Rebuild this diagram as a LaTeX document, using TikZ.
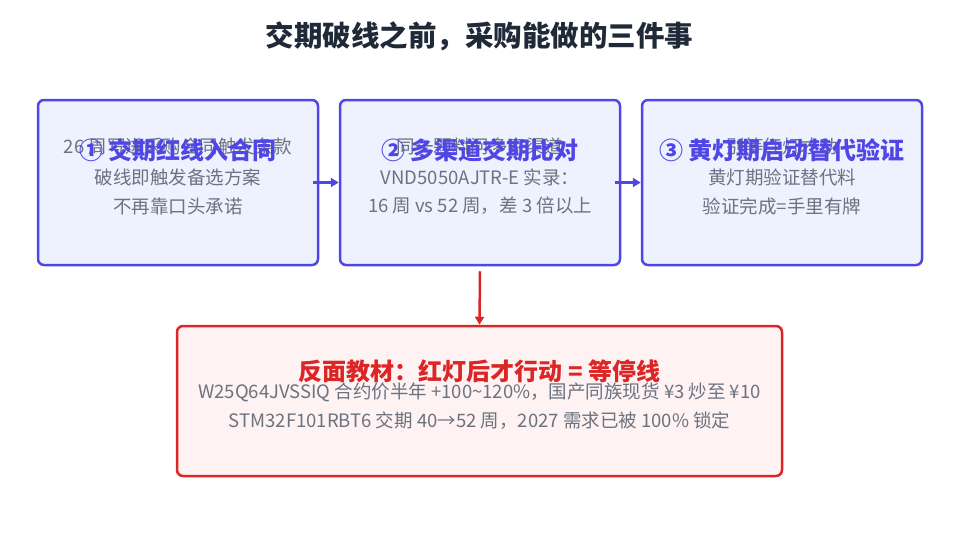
\documentclass[tikz,border=0pt]{standalone}
\usepackage{fontspec}
\setmainfont{Noto Sans CJK SC}
\usetikzlibrary{arrows.meta,positioning}
\definecolor{ink}{HTML}{1F2937}
\definecolor{purp}{HTML}{4F46E5}
\definecolor{pfill}{HTML}{EEF2FF}
\definecolor{txt}{HTML}{6B7280}
\definecolor{redc}{HTML}{DC2626}
\definecolor{rfill}{HTML}{FEF2F2}
\tikzset{
  stage/.style={draw=purp, fill=pfill, line width=2.5pt, rounded corners=6pt,
    minimum width=280pt, minimum height=165pt},
  warn/.style={draw=redc, fill=rfill, line width=2.5pt, rounded corners=6pt,
    minimum width=605pt, minimum height=150pt},
  head/.style={font=\fontsize{24}{28}\selectfont\bfseries},
  body/.style={text=txt, font=\fontsize{18.5}{22}\selectfont, align=center},
  flow/.style={line width=2.5pt, -{Triangle[length=8pt,width=9pt]}}
}
\begin{document}
\begin{tikzpicture}[x=1pt, y=-1pt]
            \useasboundingbox (0,0) rectangle (959,538);
            \node[text=ink, font=\fontsize{28.5}{32}\selectfont\bfseries] (title) at (479.5,36) {交期破线之前，采购能做的三件事};

            % three steps
            \node[stage] (s1) at (178,182.5) {};
            \node[stage] (s2) at (480,182.5) {};
            \node[stage] (s3) at (782,182.5) {};

            \node[body] at (178,146) {26 周写进采购合同触发条款};
            \node[body] at (178,177) {破线即触发备选方案};
            \node[body] at (178,206) {不再靠口头承诺};
            \node[head, text=purp] at (178,150) {① 交期红线入合同};

            \node[body] at (480,146) {同一颗料问多家渠道};
            \node[body] at (480,177) {VND5050AJTR-E 实录：};
            \node[body] at (480,206) {16 周 vs 52 周，差 3 倍以上};
            \node[head, text=purp] at (480,150) {② 多渠道交期比对};

            \node[body] at (782,146) {别等红灯才动};
            \node[body] at (782,177) {黄灯期验证替代料};
            \node[body] at (782,206) {验证完成=手里有牌};
            \node[head, text=purp] at (782,150) {③ 黄灯期启动替代验证};

            % counter example
            \node[warn] (bad) at (479.5,401) {};
            \node[head, text=redc] at (479.5,371) {反面教材：红灯后才行动 = 等停线};
            \node[body] at (479.5,392) {W25Q64JVSSIQ 合约价半年 +100\textasciitilde120\%，国产同族现货 ¥3 炒至 ¥10};
            \node[body] at (479.5,421) {STM32F101RBT6 交期 40→52 周，2027 需求已被 100\% 锁定};

            \draw[flow, draw=purp] ([xshift=-6pt]s1.east) -- (s2.west);
            \draw[flow, draw=purp] ([xshift=-6pt]s2.east) -- (s3.west);
            \draw[flow, draw=redc] ([yshift=-5pt]s2.south) -- (bad.north);
\end{tikzpicture}
\end{document}
